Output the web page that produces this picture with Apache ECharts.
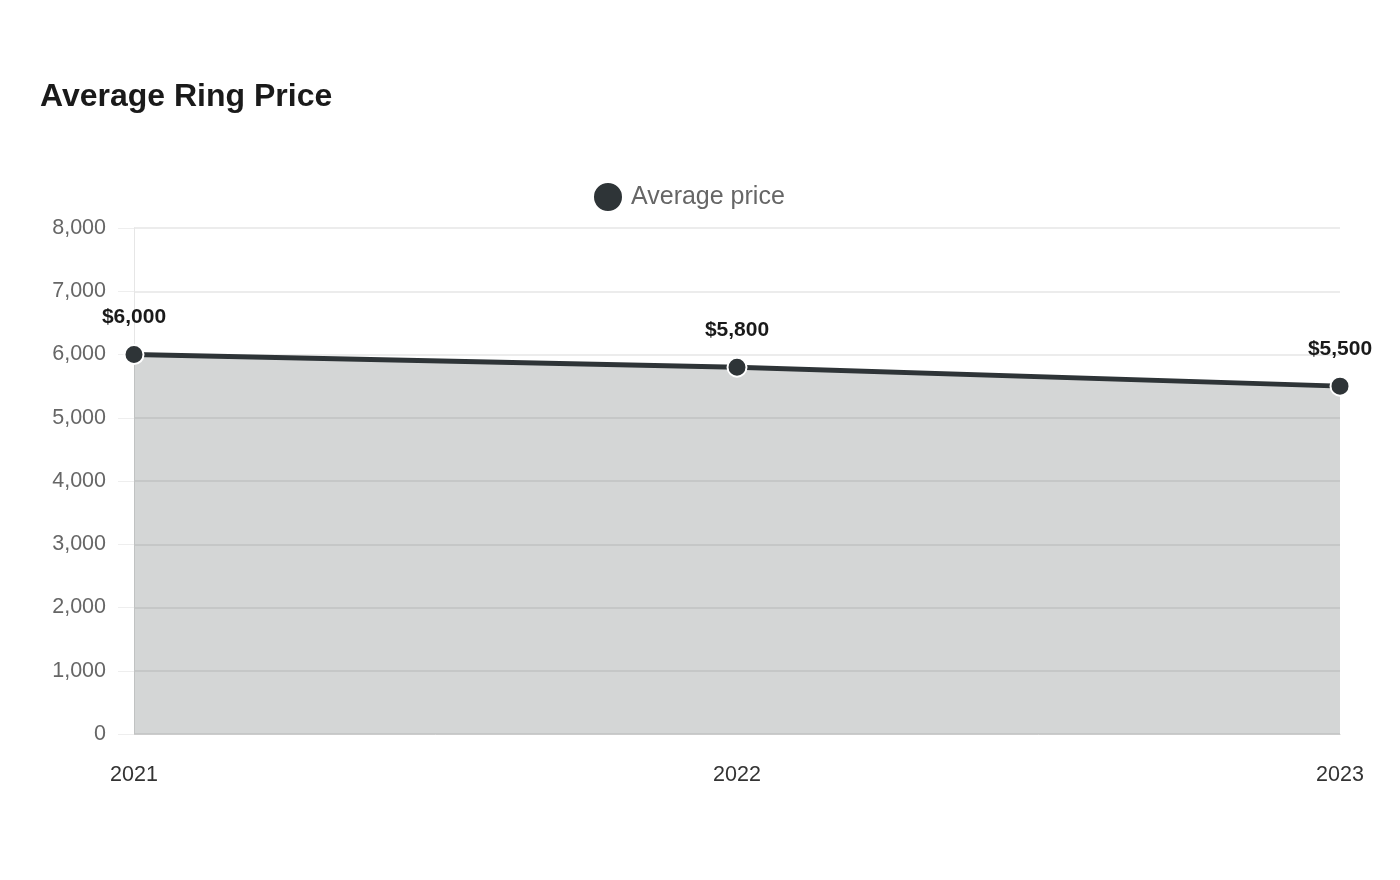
<!DOCTYPE html>
<html lang="en">
<head>
    <meta charset="UTF-8">
    <title>Average Ring Price</title>
    <style>
        html, body { margin: 0; padding: 0; background: #fff; }
    </style>
</head>
<body>
<div id="main" style="width: 1400px;height:880px;"></div>
<script src="https://cdn.jsdelivr.net/npm/echarts@6/dist/echarts.min.js"></script>
<script>
    // data
    let years = ['2021', '2022', '2023'];
    let avgPrices = [6000, 5800, 5500];
    let seriesName = 'Average price';

    let chart = echarts.init(document.getElementById('main'));
    let option = {
        textStyle: { fontFamily: 'Liberation Sans, Arial, sans-serif' },
        title: {
            text: 'Average Ring Price',
            left: 35,
            top: 76,
            textStyle: { fontSize: 32, fontWeight: 'bold', color: '#1a1a1a' }
        },
        legend: {
            data: [seriesName],
            top: 176,
            left: 587,
            icon: 'circle',
            itemWidth: 30,
            itemHeight: 30,
            textStyle: { fontSize: 25, color: '#666', padding: [0, 0, 0, 3] }
        },
        grid: { left: 134, right: 60, top: 228, bottom: 146, containLabel: false },
        xAxis: {
            type: 'category',
            data: years,
            boundaryGap: false,
            axisLine: { lineStyle: { color: '#ccc' } },
            axisTick: { show: false },
            axisLabel: { fontSize: 21.5, color: '#333', margin: 30 }
        },
        yAxis: {
            type: 'value',
            min: 0,
            max: 8000,
            interval: 1000,
            axisLine: { show: true, lineStyle: { color: '#e6e6e6' } },
            axisTick: { show: true, length: 16, lineStyle: { color: '#eee' } },
            splitLine: { lineStyle: { color: '#e6e6e6', width: 1.5 } },
            axisLabel: {
                fontSize: 21.5, color: '#666', margin: 28,
                formatter: function (v) { return v.toLocaleString('en-US'); }
            }
        },
        series: [{
            name: seriesName,
            type: 'line',
            data: avgPrices,
            color: '#2e3437',
            symbol: 'circle',
            symbolSize: 19,
            lineStyle: { width: 5, color: '#2e3437' },
            itemStyle: { color: '#2e3437', borderColor: '#fff', borderWidth: 2 },
            areaStyle: { color: 'rgba(46,52,55,0.205)', opacity: 1 },
            label: {
                show: true,
                position: 'top',
                distance: 16,
                fontSize: 21,
                fontWeight: 'bold',
                color: '#1a1a1a',
                formatter: function (p) { return '$' + p.value.toLocaleString('en-US'); }
            }
        }]
    };
    chart.setOption(option);
</script>
</body>
</html>
